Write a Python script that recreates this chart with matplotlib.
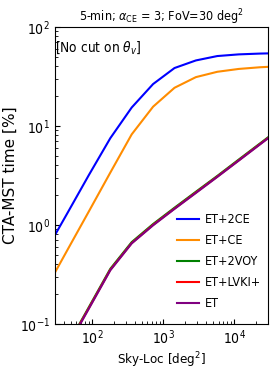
import numpy as np
import matplotlib
matplotlib.use("Agg")
import matplotlib.pyplot as plt

plt.rcParams["font.family"] = ["DejaVu Sans"]
plt.rcParams["font.stretch"] = "condensed"

# Sky-localisation grid [deg^2]
sky_loc = [22.5, 45, 90, 180, 360, 720, 1440, 2880, 5760, 11520, 23040, 46080]

# CTA-MST time fraction [%]
et_2ce = [0.55, 1.32, 3.19, 7.5, 15.3, 26.4, 38.3, 45.7, 50.6, 52.6, 53.6, 54.2]
et_ce = [0.228, 0.56, 1.37, 3.37, 8.2, 15.6, 24.2, 31.0, 35.1, 37.5, 39.0, 40.0]
et_2voy = [0.026, 0.061, 0.148, 0.36, 0.67, 1.02, 1.49, 2.16, 3.12, 4.56, 6.65, 9.7]
et_lvki = [0.025, 0.060, 0.145, 0.352, 0.655, 1.0, 1.46, 2.12, 3.07, 4.48, 6.55, 9.55]
et_only = [0.025, 0.059, 0.143, 0.348, 0.65, 0.99, 1.45, 2.1, 3.05, 4.45, 6.5, 9.5]

series = [
    ("ET+2CE", et_2ce, "blue"),
    ("ET+CE", et_ce, "darkorange"),
    ("ET+2VOY", et_2voy, "green"),
    ("ET+LVKI+", et_lvki, "red"),
    ("ET", et_only, "purple"),
]

fig = plt.figure(figsize=(2.74, 3.82), dpi=100)
ax = fig.add_axes([0.2007, 0.152, 0.7783, 0.778])

for label, vals, col in series:
    ax.plot(sky_loc, vals, color=col, lw=1.5, label=label)

ax.set_xscale("log")
ax.set_yscale("log")
ax.set_xlim(30, 3e4)
ax.set_ylim(0.1, 100)
ax.tick_params(which="both", direction="in", labelsize=10)
ax.tick_params(which="major", length=3.5)
ax.tick_params(which="minor", length=2)

ax.set_xlabel("Sky-Loc [deg$^2$]", fontsize=9.5, labelpad=2)
ax.set_ylabel("CTA-MST time [%]", fontsize=11, labelpad=1.5, fontstretch="normal")
ax.set_title(r"5-min; $\alpha_{\rm CE}$ = 3; FoV=30 deg$^2$", fontsize=9, pad=4)
ax.text(0.0, 0.93, r"[No cut on $\theta_v$]", transform=ax.transAxes,
        fontsize=9.8, ha="left", va="center")

ax.legend(loc="lower right", bbox_to_anchor=(1.0, 0.02), frameon=False,
          fontsize=9, handlelength=1.76, handletextpad=0.45,
          labelspacing=0.64, borderaxespad=0.2)

fig.savefig("out.png", dpi=100)
